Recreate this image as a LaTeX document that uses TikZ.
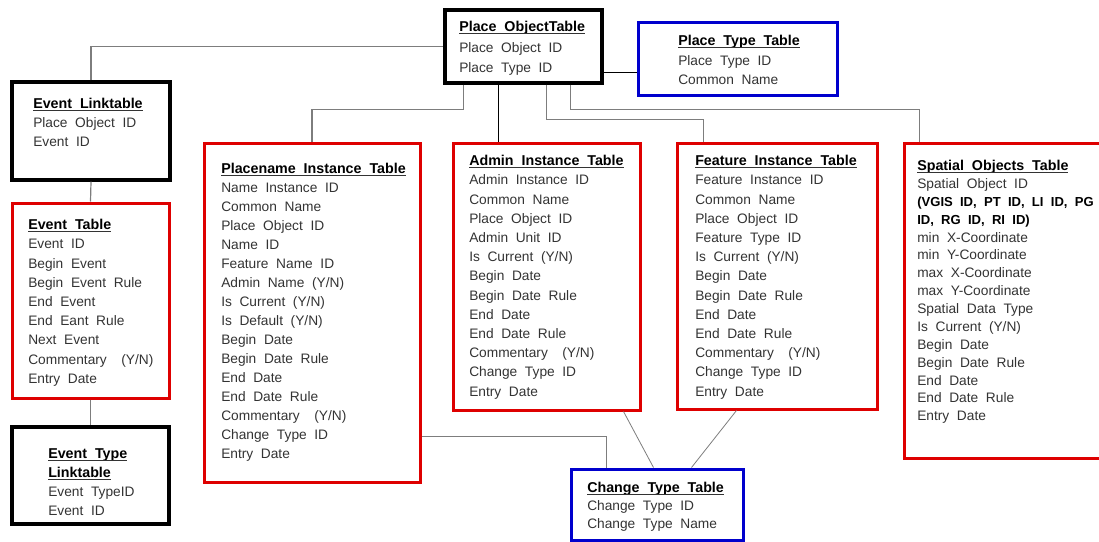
\documentclass[tikz,border=0pt]{standalone}
\usepackage{fontspec}
\setmainfont{Liberation Sans}[WordSpace=2]
\usetikzlibrary{calc,fit}
\definecolor{tblred}{RGB}{222,0,0}
\definecolor{tblblue}{RGB}{0,0,205}
\definecolor{linkgray}{RGB}{125,125,125}
\newcommand{\ttl}[1]{\underline{\raisebox{0pt}[\height][0pt]{\fontsize{10.7}{12}\selectfont\textcolor{black}{\textbf{#1}}}}}
\newcommand{\boldrow}[1]{{\fontsize{9.8}{12}\selectfont\textcolor{black}{\textbf{#1}}}}

\begin{document}
\begin{tikzpicture}[x=0.75pt,y=0.75pt,yscale=-1,xscale=1,
    tbl/.style={draw, inner sep=0pt, line width=2.25pt},
    redtbl/.style={tbl, draw=tblred},
    bluetbl/.style={tbl, draw=tblblue},
    blacktbl/.style={tbl, draw=black, line width=2.6pt},
    rows/.style={anchor=north west, inner sep=0pt, align=left, text=black!80, font=\fontsize{10.3}{#1}\selectfont},
    rows/.default=14.4,
    link/.style={draw=linkgray, line width=0.9pt}]
    \useasboundingbox (0,0) rectangle (1099,542);

    %Table: Place ObjectTable
    \node[blacktbl, fit={(445,10) (602,83)}] (po) {};
    \node[rows=15.4] (po-txt) at (459,21) {\ttl{Place ObjectTable}\\ Place Object ID\\ Place Type ID};
    %Table: Place Type Table
    \node[bluetbl, fit={(638,23) (837,96)}] (pt) {};
    \node[rows=14.6] (pt-txt) at (678,35) {\ttl{Place Type Table}\\ Place Type ID\\ Common Name};

    %Table: Event Linktable
    \node[blacktbl, fit={(12,82) (170,180)}] (el) {};
    \node[rows=14.25] (el-txt) at (33,98) {\ttl{Event Linktable}\\ Place Object ID\\ Event ID};
    %Table: Event Table
    \node[redtbl, fit={(12,203) (169,398)}] (et) {};
    \node[rows] (et-txt) at (28,219) {\ttl{Event Table}\\ Event ID\\ Begin Event\\ Begin Event Rule\\ End Event\\ End Eant Rule\\ Next Event\\ Commentary \enspace(Y/N)\\ Entry Date};
    %Table: Event Type Linktable
    \node[blacktbl, fit={(12,427) (169,524)}] (etl) {};
    \node[rows] (etl-txt) at (48,448) {\ttl{Event Type}\\ \ttl{Linktable}\\ Event TypeID\\ Event ID};

    %Table: Placename Instance Table
    \node[redtbl, fit={(204,143) (420,482)}] (pn) {};
    \node[rows=14.25] (pn-txt) at (221,163) {\ttl{Placename Instance Table}\\ Name Instance ID\\ Common Name\\ Place Object ID\\ Name ID\\ Feature Name ID\\ Admin Name (Y/N)\\ Is Current (Y/N)\\ Is Default (Y/N)\\ Begin Date\\ Begin Date Rule\\ End Date\\ End Date Rule\\ Commentary \enspace(Y/N)\\ Change Type ID\\ Entry Date};
    %Table: Admin Instance Table
    \node[redtbl, fit={(453,143) (640,410)}] (ai) {};
    \node[rows] (ai-txt) at (469,155) {\ttl{Admin Instance Table}\\ Admin Instance ID\\ Common Name\\ Place Object ID\\ Admin Unit ID\\ Is Current (Y/N)\\ Begin Date\\ Begin Date Rule\\ End Date\\ End Date Rule\\ Commentary \enspace(Y/N)\\ Change Type ID\\ Entry Date};
    %Table: Feature Instance Table
    \node[redtbl, fit={(677,143) (877,409)}] (fi) {};
    \node[rows] (fi-txt) at (695,155) {\ttl{Feature Instance Table}\\ Feature Instance ID\\ Common Name\\ Place Object ID\\ Feature Type ID\\ Is Current (Y/N)\\ Begin Date\\ Begin Date Rule\\ End Date\\ End Date Rule\\ Commentary \enspace(Y/N)\\ Change Type ID\\ Entry Date};
    %Table: Spatial Objects Table
    \node[redtbl, fit={(904,143) (1106,458)}] (so) {};
    \node[rows=13.4] (so-txt) at (917,160) {\ttl{Spatial Objects Table}\\ Spatial Object ID\\ \boldrow{(VGIS ID, PT ID, LI ID, PG}\\ \boldrow{ID, RG ID, RI ID)}\\ min X-Coordinate\\ min Y-Coordinate\\ max X-Coordinate\\ max Y-Coordinate\\ Spatial Data Type\\ Is Current (Y/N)\\ Begin Date\\ Begin Date Rule\\ End Date\\ End Date Rule\\ Entry Date};
    %Table: Change Type Table
    \node[bluetbl, fit={(571,469) (743,540)}] (ct) {};
    \node[rows=13.5] (ct-txt) at (587,482) {\ttl{Change Type Table}\\ Change Type ID\\ Change Type Name};

    %Links from Place ObjectTable
    \draw[link] (el.north) |- (po.west);
    \draw[link, draw=black] ($(po.south east)+(0,-12)$) coordinate (pq) -- (pq -| pt.west);
    \draw[link] ($(po.south west)+(20,0)$) -- ++(0,25) -| (pn.north);
    \draw[link, draw=black] ($(po.south west)+(55,0)$) coordinate (pa) -- (pa |- ai.north);
    \draw[link] ($(po.south west)+(103,0)$) -- ++(0,35) -| ($(fi.north west)+(28,0)$);
    \draw[link] ($(po.south west)+(127,0)$) -- ++(0,25) -| ($(so.north west)+(17,0)$);
    %Links of the event tables
    \draw[link] (el.south) -- (et.north);
    \draw[link] (et.south) -- (etl.north);
    %Links to Change Type Table
    \draw[link] ($(pn.south east)+(0,-47)$) -| ($(ct.north west)+(37,0)$);
    \draw[link, line width=0.6pt] ($(ai.south east)+(-18,0)$) -- ($(ct.north west)+(84,0)$);
    \draw[link, line width=0.6pt] ($(fi.south west)+(61,0)$) -- ($(ct.north west)+(122,0)$);

\end{tikzpicture}
\end{document}
